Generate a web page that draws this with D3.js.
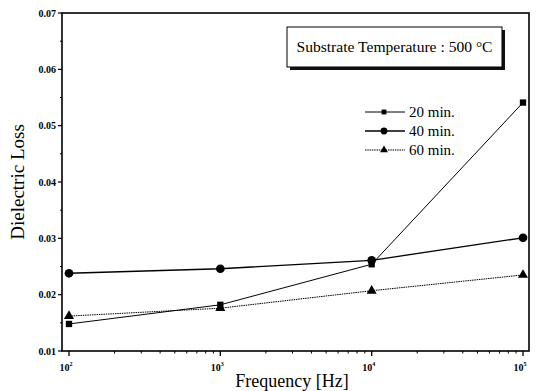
<!DOCTYPE html>
<html>
<head>
<meta charset="utf-8">
<script src="https://cdn.jsdelivr.net/npm/d3@7"></script>
<style>
  body { margin: 0; background: #fff; }
  svg text { font-family: "Liberation Serif", "Times New Roman", "DejaVu Serif", serif; }
</style>
</head>
<body>
<svg width="537" height="391"></svg>
<script>
const freqs = [100, 1000, 10000, 100000];
const loss20 = [0.0148, 0.0182, 0.0254, 0.0541];
const loss40 = [0.0238, 0.0246, 0.0261, 0.0301];
const loss60 = [0.0162, 0.0176, 0.0207, 0.0235];
const seriesNames = ["20 min.", "40 min.", "60 min."];
const yTicks = [0.01, 0.02, 0.03, 0.04, 0.05, 0.06, 0.07];
const xTickExps = [2, 3, 4, 5];

const svg = d3.select("svg");
const plotL = 62, plotR = 529, plotT = 13, plotB = 351;

const x = d3.scaleLog()
    .domain([Math.pow(10, 2 - 7 / 151.3), Math.pow(10, 5 + 6 / 151.3)])
    .range([plotL, plotR]);
const y = d3.scaleLinear().domain([0.01, 0.07]).range([plotB, plotT]);

// frame
svg.append("rect")
    .attr("x", plotL).attr("y", plotT)
    .attr("width", plotR - plotL).attr("height", plotB - plotT)
    .attr("fill", "none").attr("stroke", "#000").attr("stroke-width", 1.6);

// y axis
const yMinor = d3.range(0.015, 0.07, 0.01);
svg.append("g").selectAll("line")
    .data(yMinor).enter().append("line")
    .attr("x1", plotL - 2).attr("x2", plotL)
    .attr("y1", d => y(d)).attr("y2", d => y(d))
    .attr("stroke", "#000").attr("stroke-width", 1);
svg.append("g").selectAll("line")
    .data(yTicks).enter().append("line")
    .attr("x1", plotL - 4).attr("x2", plotL)
    .attr("y1", d => y(d)).attr("y2", d => y(d))
    .attr("stroke", "#000").attr("stroke-width", 1.2);
svg.append("g").selectAll("text")
    .data(yTicks).enter().append("text")
    .attr("x", plotL - 6).attr("y", d => y(d) + 3.5)
    .attr("text-anchor", "end")
    .style("font-size", "10px").style("font-weight", "bold")
    .text(d => d3.format(".2f")(d));

// x axis ticks (log minor)
const xMinor = [];
for (let e = 2; e < 5; e++) {
  for (let m = 2; m <= 9; m++) xMinor.push(m * Math.pow(10, e));
}
svg.append("g").selectAll("line")
    .data(xMinor).enter().append("line")
    .attr("x1", d => x(d)).attr("x2", d => x(d))
    .attr("y1", plotB).attr("y2", plotB + 2.5)
    .attr("stroke", "#000").attr("stroke-width", 1);
svg.append("g").selectAll("line")
    .data(xTickExps).enter().append("line")
    .attr("x1", d => x(Math.pow(10, d))).attr("x2", d => x(Math.pow(10, d)))
    .attr("y1", plotB).attr("y2", plotB + 5)
    .attr("stroke", "#000").attr("stroke-width", 1.3);
const xl = svg.append("g").selectAll("text")
    .data(xTickExps).enter().append("text")
    .attr("x", d => x(Math.pow(10, d)) - 3).attr("y", plotB + 20)
    .attr("text-anchor", "middle")
    .style("font-size", "10px").style("font-weight", "bold");
xl.append("tspan").text("10");
xl.append("tspan").attr("dy", -5).style("font-size", "6px").text(d => d);

// axis titles
svg.append("text")
    .attr("transform", "translate(24," + ((plotT + plotB) / 2) + ") rotate(-90)")
    .attr("text-anchor", "middle")
    .style("font-size", "19px")
    .text("Dielectric Loss");
svg.append("text")
    .attr("x", 292).attr("y", 387)
    .attr("text-anchor", "middle")
    .style("font-size", "18px")
    .text("Frequency [Hz]");

// series
const line = d3.line().x(d => x(d[0])).y(d => y(d[1]));
const series = [
  { name: seriesNames[0], vals: loss20, shape: d3.symbolSquare, size: 40, dash: null, width: 1 },
  { name: seriesNames[1], vals: loss40, shape: d3.symbolCircle, size: 60, dash: null, width: 1.3 },
  { name: seriesNames[2], vals: loss60, shape: d3.symbolTriangle, size: 44, dash: "1.5,0.8", width: 1 }
];
series.forEach(s => {
  const pts = freqs.map((f, i) => [f, s.vals[i]]);
  svg.append("path")
      .datum(pts)
      .attr("d", line)
      .attr("fill", "none")
      .attr("stroke", "#000")
      .attr("stroke-width", s.width)
      .attr("stroke-dasharray", s.dash);
  svg.append("g").selectAll("path")
      .data(pts).enter().append("path")
      .attr("transform", d => "translate(" + x(d[0]) + "," + y(d[1]) + ")")
      .attr("d", d3.symbol().type(s.shape).size(s.size))
      .attr("fill", "#000");
});

// title box with shadow
svg.append("rect")
    .attr("x", 290).attr("y", 30).attr("width", 215).attr("height", 40)
    .attr("fill", "#111");
svg.append("rect")
    .attr("x", 287).attr("y", 27).attr("width", 215).attr("height", 40)
    .attr("fill", "#fff").attr("stroke", "#000").attr("stroke-width", 1);
svg.append("text")
    .attr("x", 394.5).attr("y", 52)
    .attr("text-anchor", "middle")
    .attr("textLength", 196).attr("lengthAdjust", "spacingAndGlyphs")
    .style("font-size", "14px")
    .text("Substrate Temperature : 500 \u00B0C");

// legend
const legY = [112, 131, 150];
series.forEach((s, i) => {
  const g = svg.append("g").attr("transform", "translate(0," + legY[i] + ")");
  g.append("line")
      .attr("x1", 365).attr("x2", 405).attr("y1", 0).attr("y2", 0)
      .attr("stroke", "#000").attr("stroke-width", s.width)
      .attr("stroke-dasharray", s.dash);
  g.append("path")
      .attr("transform", "translate(384,0)")
      .attr("d", d3.symbol().type(s.shape).size(s.size * 0.6))
      .attr("fill", "#000");
  g.append("text")
      .attr("x", 409).attr("y", 5)
      .style("font-size", "15px")
      .text(s.name);
});
</script>
</body>
</html>
